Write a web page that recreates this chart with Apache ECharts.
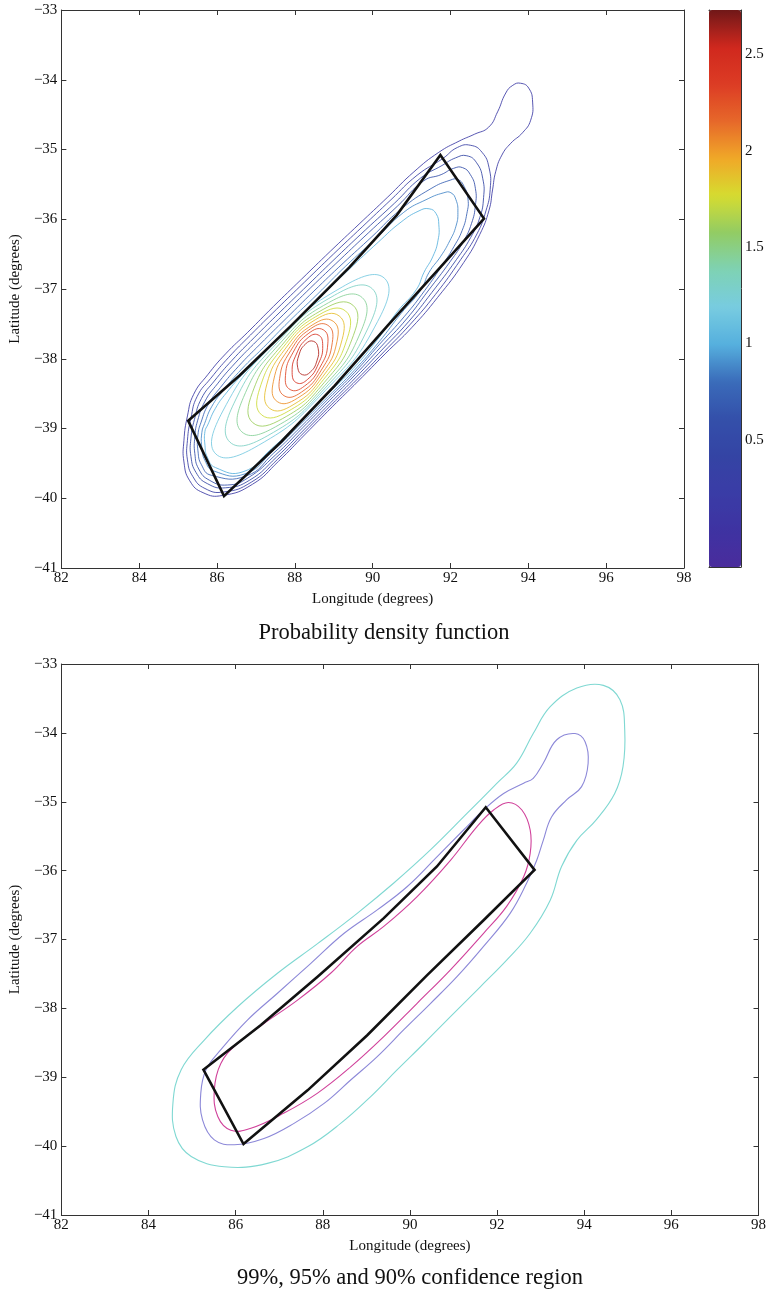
<!DOCTYPE html>
<html>
<head>
<meta charset="utf-8">
<script src="https://cdn.jsdelivr.net/npm/echarts@6/dist/echarts.min.js"></script>
<style>
  html, body { margin: 0; padding: 0; background: #fff; }
  #chart { width: 769px; height: 1301px; }
</style>
</head>
<body>
<div id="chart"></div>
<script>
// Axis ranges and tick labels
const lonRange = [82, 98];
const latRange = [-41, -33];
const colorbarRange = [-0.16, 2.73];
const colorbarTicks = [0.5, 1, 1.5, 2, 2.5];

// Density contour levels (outermost first) and their traced outlines, [lon, lat]
const densityLevels = [0.16, 0.30, 0.45, 0.59, 0.73, 0.88, 1.02, 1.17, 1.31, 1.45, 1.60, 1.74, 1.88, 2.03, 2.17, 2.31, 2.46, 2.60];
const densityContours = [
  // 0.16
  [[93.80,-34.05],[94.01,-34.12],[94.11,-34.32],[94.06,-34.58],[93.85,-34.76],[93.55,-34.91],[93.32,-35.08],[93.16,-35.32],[93.08,-35.58],[92.99,-35.87],[92.75,-36.22],[92.34,-36.62],[91.67,-37.12],[91.01,-37.55],[90.32,-37.93],[89.63,-38.32],[88.96,-38.69],[88.27,-39.08],[87.58,-39.47],[86.91,-39.80],[86.14,-39.96],[85.64,-39.92],[85.30,-39.75],[85.15,-39.48],[85.15,-39.17],[85.24,-38.82],[85.40,-38.51],[85.76,-38.23],[86.22,-37.93],[86.79,-37.62],[87.45,-37.25],[88.17,-36.86],[88.91,-36.46],[89.65,-36.07],[90.39,-35.68],[91.06,-35.32],[91.70,-35.04],[92.22,-34.88],[92.62,-34.78],[92.98,-34.68],[93.21,-34.46],[93.42,-34.19],[93.60,-34.08]],
  // 0.30
  [[91.80,-35.13],[92.18,-34.97],[92.52,-34.94],[92.81,-35.04],[92.99,-35.26],[93.02,-35.57],[92.91,-35.88],[92.68,-36.21],[92.26,-36.58],[91.61,-37.08],[90.96,-37.51],[90.29,-37.90],[89.61,-38.29],[88.94,-38.66],[88.25,-39.05],[87.56,-39.44],[86.88,-39.77],[86.17,-39.91],[85.69,-39.86],[85.38,-39.69],[85.24,-39.45],[85.24,-39.17],[85.33,-38.85],[85.49,-38.54],[85.84,-38.28],[86.30,-37.98],[86.86,-37.66],[87.53,-37.29],[88.25,-36.90],[88.99,-36.50],[89.73,-36.11],[90.47,-35.72],[91.14,-35.37]],
  // 0.45
  [[91.78,-35.23],[92.13,-35.12],[92.42,-35.09],[92.67,-35.19],[92.83,-35.42],[92.85,-35.69],[92.75,-35.98],[92.52,-36.26],[92.15,-36.58],[91.52,-37.05],[90.92,-37.47],[90.26,-37.86],[89.58,-38.26],[88.92,-38.63],[88.23,-39.02],[87.53,-39.41],[86.84,-39.74],[86.22,-39.85],[85.75,-39.79],[85.46,-39.63],[85.33,-39.40],[85.33,-39.14],[85.42,-38.87],[85.60,-38.57],[85.93,-38.32],[86.39,-38.02],[86.95,-37.70],[87.62,-37.33],[88.34,-36.94],[89.08,-36.54],[89.82,-36.15],[90.56,-35.77],[91.23,-35.41]],
  // 0.59
  [[91.76,-35.36],[92.08,-35.27],[92.31,-35.26],[92.51,-35.36],[92.64,-35.56],[92.64,-35.80],[92.54,-36.06],[92.33,-36.32],[92.00,-36.60],[91.42,-37.03],[90.87,-37.43],[90.21,-37.83],[89.55,-38.23],[88.89,-38.60],[88.20,-38.99],[87.50,-39.38],[86.79,-39.71],[86.27,-39.81],[85.80,-39.74],[85.53,-39.58],[85.43,-39.36],[85.43,-39.12],[85.50,-38.89],[85.69,-38.61],[86.01,-38.36],[86.47,-38.06],[87.03,-37.74],[87.70,-37.37],[88.41,-36.98],[89.16,-36.58],[89.90,-36.19],[90.64,-35.81],[91.31,-35.45]],
  // 0.73
  [[91.50,-35.56],[91.99,-35.44],[92.19,-35.43],[92.35,-35.53],[92.45,-35.71],[92.42,-35.92],[92.30,-36.16],[92.09,-36.39],[91.81,-36.64],[91.34,-37.02],[90.82,-37.39],[90.18,-37.79],[89.53,-38.20],[88.87,-38.57],[88.18,-38.96],[87.46,-39.35],[86.75,-39.68],[85.85,-39.67],[85.60,-39.52],[85.51,-39.32],[85.51,-39.09],[85.59,-38.91],[85.78,-38.65],[86.09,-38.41],[86.55,-38.11],[87.11,-37.79],[87.78,-37.42],[88.49,-37.03],[89.24,-36.63],[89.98,-36.25],[90.72,-35.86]],
  // 0.88
  [[91.37,-35.72],[91.83,-35.62],[92.01,-35.62],[92.14,-35.72],[92.19,-35.90],[92.14,-36.10],[91.98,-36.31],[91.75,-36.53],[91.45,-36.76],[91.23,-37.02],[90.73,-37.35],[90.16,-37.76],[89.52,-38.17],[88.86,-38.54],[88.16,-38.93],[87.44,-39.32],[86.72,-39.65],[85.92,-39.61],[85.69,-39.46],[85.61,-39.27],[85.61,-39.06],[85.68,-38.93],[85.87,-38.68],[86.17,-38.45],[86.63,-38.15],[87.19,-37.84],[87.86,-37.46],[88.57,-37.08],[89.31,-36.67],[90.06,-36.29],[90.80,-35.90]],
  // 1.02
  [[90.73,-36.04],[91.19,-35.88],[91.45,-35.85],[91.63,-35.92],[91.70,-36.08],[91.68,-36.30],[91.55,-36.53],[91.32,-36.76],[91.12,-37.01],[90.64,-37.32],[90.13,-37.72],[89.50,-38.14],[88.84,-38.51],[88.14,-38.90],[87.40,-39.29],[86.67,-39.62],[85.96,-39.56],[85.75,-39.41],[85.69,-39.24],[85.69,-39.04],[85.76,-38.95],[85.96,-38.71],[86.24,-38.49],[86.71,-38.19],[87.27,-37.88],[87.93,-37.50],[88.65,-37.12],[89.39,-36.72],[90.14,-36.33]],
  // 1.17
  [[90.309,-36.849],[90.129,-37.464],[88.784,-38.456],[87.061,-39.243],[85.969,-39.365],[86.149,-38.750],[87.495,-37.758],[89.218,-36.971]],
  // 1.31
  [[89.991,-36.997],[89.892,-37.547],[88.780,-38.419],[87.305,-39.102],[86.331,-39.195],[86.430,-38.645],[87.542,-37.773],[89.017,-37.090]],
  // 1.45
  [[89.732,-37.124],[89.693,-37.615],[88.771,-38.382],[87.506,-38.975],[86.638,-39.048],[86.677,-38.557],[87.599,-37.791],[88.864,-37.197]],
  // 1.60
  [[89.492,-37.232],[89.505,-37.665],[88.758,-38.339],[87.688,-38.857],[86.922,-38.918],[86.909,-38.485],[87.656,-37.812],[88.726,-37.293]],
  // 1.74
  [[89.304,-37.316],[89.352,-37.699],[88.741,-38.295],[87.828,-38.753],[87.148,-38.806],[87.100,-38.423],[87.711,-37.827],[88.624,-37.369]],
  // 1.88
  [[89.138,-37.386],[89.216,-37.723],[88.725,-38.251],[87.954,-38.661],[87.354,-38.712],[87.276,-38.375],[87.767,-37.847],[88.538,-37.437]],
  // 2.03
  [[88.986,-37.463],[89.083,-37.752],[88.702,-38.209],[88.066,-38.566],[87.547,-38.614],[87.449,-38.324],[87.830,-37.867],[88.466,-37.510]],
  // 2.17
  [[88.848,-37.520],[88.963,-37.766],[88.680,-38.163],[88.166,-38.480],[87.722,-38.530],[87.608,-38.284],[87.890,-37.887],[88.404,-37.570]],
  // 2.31
  [[88.728,-37.584],[88.847,-37.786],[88.648,-38.120],[88.247,-38.392],[87.879,-38.442],[87.759,-38.241],[87.958,-37.906],[88.359,-37.634]],
  // 2.46
  [[88.597,-37.658],[88.716,-37.808],[88.605,-38.072],[88.329,-38.295],[88.049,-38.346],[87.930,-38.196],[88.041,-37.932],[88.317,-37.709]],
  // 2.60
  [[88.475,-37.749],[88.598,-37.849],[88.567,-38.031],[88.401,-38.189],[88.197,-38.229],[88.074,-38.129],[88.105,-37.947],[88.271,-37.790]]
];

// Confidence region outlines, [lon, lat]
const confidenceNames = ['99%', '95%', '90%'];
const confidenceColors = ['#7fd8d2', '#8c88d8', '#d0409a'];
const confidence99 = [[94.44,-33.31],[94.82,-33.52],[94.93,-33.96],[94.89,-34.49],[94.70,-34.88],[94.28,-35.26],[93.83,-35.56],[93.48,-35.94],[93.22,-36.43],[92.76,-36.91],[92.22,-37.30],[91.61,-37.69],[90.93,-38.12],[90.32,-38.51],[89.71,-38.89],[89.10,-39.28],[88.41,-39.67],[87.65,-40.01],[86.73,-40.25],[85.74,-40.30],[84.98,-40.15],[84.63,-39.86],[84.56,-39.38],[84.75,-38.89],[85.28,-38.46],[86.04,-37.98],[86.96,-37.49],[87.88,-37.06],[88.79,-36.62],[89.63,-36.18],[90.47,-35.70],[91.31,-35.17],[92.00,-34.73],[92.45,-34.44],[92.83,-34.01],[93.22,-33.62],[93.83,-33.35]];
const confidence95 = [[93.79,-34.01],[94.02,-34.13],[94.09,-34.44],[93.94,-34.78],[93.60,-34.97],[93.25,-35.22],[93.06,-35.56],[92.91,-35.85],[92.68,-36.18],[92.30,-36.62],[91.69,-37.10],[91.08,-37.54],[90.47,-37.93],[89.86,-38.31],[89.25,-38.70],[88.64,-39.04],[88.03,-39.38],[87.34,-39.67],[86.65,-39.89],[85.97,-39.98],[85.51,-39.91],[85.24,-39.62],[85.20,-39.23],[85.32,-38.89],[85.66,-38.60],[86.27,-38.17],[86.96,-37.78],[87.72,-37.35],[88.49,-36.91],[89.25,-36.57],[89.94,-36.23],[90.62,-35.80],[91.23,-35.41],[91.69,-35.12],[92.15,-34.88],[92.61,-34.73],[92.83,-34.66],[93.06,-34.44],[93.37,-34.10]];
const confidence90 = [[92.26,-35.01],[92.57,-35.12],[92.76,-35.41],[92.76,-35.75],[92.61,-36.09],[92.22,-36.52],[91.69,-36.91],[90.93,-37.44],[90.16,-37.93],[89.40,-38.41],[88.64,-38.85],[87.88,-39.23],[87.11,-39.52],[86.35,-39.74],[85.89,-39.77],[85.59,-39.57],[85.51,-39.19],[85.66,-38.80],[86.04,-38.51],[86.65,-38.22],[87.42,-37.88],[88.18,-37.49],[88.79,-37.10],[89.40,-36.81],[90.16,-36.38],[90.93,-35.85],[91.54,-35.36],[91.92,-35.12]];

// Search box outline, [lon, lat]
const searchBox = [[85.26,-38.89],[86.58,-38.24],[87.88,-37.54],[89.40,-36.69],[90.62,-35.94],[91.74,-35.08],[92.86,-35.99],[91.69,-36.72],[90.39,-37.52],[89.02,-38.39],[87.65,-39.19],[86.18,-39.97]];

const titles = ['Probability density function', '99%, 95% and 90% confidence region'];

// Colour scale used by the colour bar and the density contours
const jetColors = ['#4a2c9c', '#3e33a2', '#3a3ca6', '#3444a4', '#3450aa', '#3a6cba', '#56b0de', '#78cce0', '#7ed2b4', '#92cc64', '#d6dc30', '#f0a828', '#e6682a', '#dc3c24', '#d0281e', '#701818'];

const serif = '"Liberation Serif", "DejaVu Serif", serif';
const axisColor = '#333';
const textColor = '#111';

function frameAxes(gridIndex) {
  const base = {
    gridIndex, type: 'value', splitLine: { show: false },
    axisLine: { show: true, onZero: false, lineStyle: { color: axisColor, width: 1 } },
    axisTick: { show: true, inside: true, length: 5, lineStyle: { color: axisColor } }
  };
  const fmt = v => (v < 0 ? '\u2212' + Math.abs(v) : String(v));
  const label = { show: true, fontFamily: serif, fontSize: 15, color: textColor, formatter: fmt };
  const nameStyle = { fontFamily: serif, fontSize: 15, color: textColor };
  const xs = [
    Object.assign({}, base, { min: lonRange[0], max: lonRange[1], interval: 2, position: 'bottom',
      axisLabel: Object.assign({}, label, { margin: 3 }),
      name: 'Longitude (degrees)', nameLocation: 'middle', nameGap: 24, nameTextStyle: nameStyle }),
    Object.assign({}, base, { min: lonRange[0], max: lonRange[1], interval: 2, position: 'top', axisLabel: { show: false } })
  ];
  const ys = [
    Object.assign({}, base, { min: latRange[0], max: latRange[1], interval: 1, position: 'left',
      axisLabel: Object.assign({}, label, { margin: 4 }),
      name: 'Latitude (degrees)', nameLocation: 'middle', nameGap: 36, nameRotate: 90, nameTextStyle: nameStyle }),
    Object.assign({}, base, { min: latRange[0], max: latRange[1], interval: 1, position: 'right', axisLabel: { show: false } })
  ];
  return { xs, ys };
}

const densityAxes = frameAxes(0);
const confidenceAxes = frameAxes(1);

function outlineRender(lines, smooth, width, fixedColor, opacity) {
  return function (params, api) {
    const pts = lines[params.dataIndex].map(p => api.coord(p));
    return {
      type: 'polygon',
      shape: { points: pts, smooth: smooth },
      style: { fill: 'none', stroke: fixedColor || api.visual('color'), lineWidth: width, opacity: opacity == null ? 1 : opacity },
      silent: true
    };
  };
}

const cbAxisBase = {
  gridIndex: 2, type: 'value', min: colorbarRange[0], max: colorbarRange[1],
  splitLine: { show: false },
  axisLine: { show: true, onZero: false, lineStyle: { color: axisColor } },
  axisTick: { show: true, inside: true, length: 5, customValues: colorbarTicks, lineStyle: { color: axisColor } }
};
const cbFrame = {
  gridIndex: 2, type: 'value', min: 0, max: 1, splitLine: { show: false },
  axisLine: { show: true, onZero: false, lineStyle: { color: axisColor } }, axisTick: { show: false }, axisLabel: { show: false }
};

const option = {
  animation: false,
  backgroundColor: '#fff',
  grid: [
    { left: 59, top: 10, width: 625, height: 558 },
    { left: 60, top: 664, width: 699, height: 551 },
    { left: 709, top: 10, width: 32, height: 557 }
  ],
  xAxis: [
    densityAxes.xs[0], densityAxes.xs[1], confidenceAxes.xs[0], confidenceAxes.xs[1],
    Object.assign({}, cbFrame, { position: 'bottom' }),
    Object.assign({}, cbFrame, { position: 'top' })
  ],
  yAxis: [
    densityAxes.ys[0], densityAxes.ys[1], confidenceAxes.ys[0], confidenceAxes.ys[1],
    Object.assign({}, cbAxisBase, { position: 'left', axisLabel: { show: false } }),
    Object.assign({}, cbAxisBase, { position: 'right',
      axisLabel: { show: true, customValues: colorbarTicks, fontFamily: serif, fontSize: 15, color: textColor, margin: 4 } })
  ],
  visualMap: {
    type: 'continuous', seriesIndex: 0, dimension: 0,
    min: colorbarRange[0], max: colorbarRange[1],
    inRange: { color: jetColors },
    calculable: false, show: true, left: 709, top: 10, itemWidth: 32, itemHeight: 557,
    padding: 0, text: null, showLabel: false, hoverLink: false, z: 1
  },
  graphic: [
    { type: 'text', x: 384, y: 633, style: { text: titles[0], font: '22.5px ' + serif, fill: textColor, align: 'center', verticalAlign: 'middle' } },
    { type: 'text', x: 410, y: 1278, style: { text: titles[1], font: '22.5px ' + serif, fill: textColor, align: 'center', verticalAlign: 'middle' } }
  ],
  series: [
    {
      type: 'custom', xAxisIndex: 0, yAxisIndex: 0, clip: false,
      data: densityLevels.map(v => [v]),
      renderItem: outlineRender(densityContours, 0.5, 1, null, 0.85)
    },
    {
      type: 'custom', xAxisIndex: 0, yAxisIndex: 0, clip: false, data: [[0]],
      renderItem: outlineRender([searchBox], 0, 2.6, '#111')
    },
    {
      type: 'custom', xAxisIndex: 2, yAxisIndex: 2, clip: false,
      data: confidenceNames.map((n, i) => [i]),
      renderItem: function (params, api) {
        const lines = [confidence99, confidence95, confidence90];
        return outlineRender(lines, 0.4, 1.1, confidenceColors[params.dataIndex])(params, api);
      }
    },
    {
      type: 'custom', xAxisIndex: 2, yAxisIndex: 2, clip: false, data: [[0]],
      renderItem: outlineRender([searchBox], 0, 2.6, '#111')
    }
  ]
};

const chart = echarts.init(document.getElementById('chart'), null, { renderer: 'canvas' });
chart.setOption(option);
</script>
</body>
</html>
